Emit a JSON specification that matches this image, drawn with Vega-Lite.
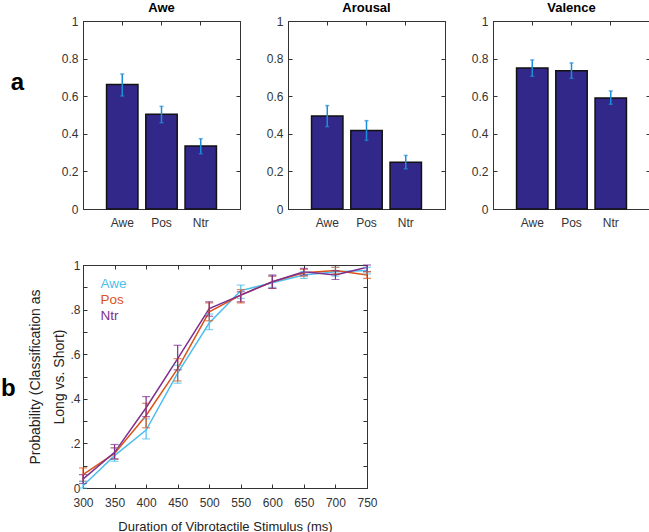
{
  "$schema": "https://vega.github.io/schema/vega-lite/v6.json",
  "padding": {"left": 0, "top": 1, "right": 1, "bottom": 0},
  "background": "white",
  "datasets": {
    "awe": [
      {"stim": "Awe", "mean": 0.662, "lo": 0.601, "hi": 0.718},
      {"stim": "Pos", "mean": 0.504, "lo": 0.459, "hi": 0.546},
      {"stim": "Ntr", "mean": 0.335, "lo": 0.294, "hi": 0.374}
    ],
    "arousal": [
      {"stim": "Awe", "mean": 0.495, "lo": 0.438, "hi": 0.55},
      {"stim": "Pos", "mean": 0.418, "lo": 0.365, "hi": 0.47},
      {"stim": "Ntr", "mean": 0.249, "lo": 0.214, "hi": 0.285}
    ],
    "valence": [
      {"stim": "Awe", "mean": 0.75, "lo": 0.706, "hi": 0.793},
      {"stim": "Pos", "mean": 0.736, "lo": 0.695, "hi": 0.777},
      {"stim": "Ntr", "mean": 0.59, "lo": 0.557, "hi": 0.628}
    ],
    "curve": [
      {"group": "Awe", "ms": 300, "p": 0.01, "lo": 0.0, "hi": 0.03},
      {"group": "Awe", "ms": 350, "p": 0.145, "lo": 0.12, "hi": 0.18},
      {"group": "Awe", "ms": 400, "p": 0.26, "lo": 0.22, "hi": 0.31},
      {"group": "Awe", "ms": 450, "p": 0.515, "lo": 0.47, "hi": 0.55},
      {"group": "Awe", "ms": 500, "p": 0.74, "lo": 0.71, "hi": 0.78},
      {"group": "Awe", "ms": 550, "p": 0.885, "lo": 0.85, "hi": 0.91},
      {"group": "Awe", "ms": 600, "p": 0.92, "lo": 0.9, "hi": 0.95},
      {"group": "Awe", "ms": 650, "p": 0.955, "lo": 0.94, "hi": 0.97},
      {"group": "Awe", "ms": 700, "p": 0.97, "lo": 0.95, "hi": 0.99},
      {"group": "Awe", "ms": 750, "p": 0.975, "lo": 0.96, "hi": 0.99},
      {"group": "Pos", "ms": 300, "p": 0.06, "lo": 0.03, "hi": 0.09},
      {"group": "Pos", "ms": 350, "p": 0.155, "lo": 0.13, "hi": 0.18},
      {"group": "Pos", "ms": 400, "p": 0.325, "lo": 0.27, "hi": 0.38},
      {"group": "Pos", "ms": 450, "p": 0.535, "lo": 0.48, "hi": 0.58},
      {"group": "Pos", "ms": 500, "p": 0.79, "lo": 0.75, "hi": 0.83},
      {"group": "Pos", "ms": 550, "p": 0.865, "lo": 0.83, "hi": 0.89},
      {"group": "Pos", "ms": 600, "p": 0.925, "lo": 0.895, "hi": 0.95},
      {"group": "Pos", "ms": 650, "p": 0.965, "lo": 0.95, "hi": 0.98},
      {"group": "Pos", "ms": 700, "p": 0.975, "lo": 0.96, "hi": 0.99},
      {"group": "Pos", "ms": 750, "p": 0.955, "lo": 0.94, "hi": 0.97},
      {"group": "Ntr", "ms": 300, "p": 0.04, "lo": 0.02, "hi": 0.06},
      {"group": "Ntr", "ms": 350, "p": 0.16, "lo": 0.13, "hi": 0.195},
      {"group": "Ntr", "ms": 400, "p": 0.36, "lo": 0.32, "hi": 0.41},
      {"group": "Ntr", "ms": 450, "p": 0.58, "lo": 0.53, "hi": 0.64},
      {"group": "Ntr", "ms": 500, "p": 0.805, "lo": 0.77, "hi": 0.835},
      {"group": "Ntr", "ms": 550, "p": 0.865, "lo": 0.835, "hi": 0.88},
      {"group": "Ntr", "ms": 600, "p": 0.925, "lo": 0.895, "hi": 0.955},
      {"group": "Ntr", "ms": 650, "p": 0.97, "lo": 0.955, "hi": 0.985},
      {"group": "Ntr", "ms": 700, "p": 0.955, "lo": 0.935, "hi": 0.975},
      {"group": "Ntr", "ms": 750, "p": 0.99, "lo": 0.97, "hi": 1.0}
    ]
  },
  "vconcat": [
    {
      "title": {"text": "a", "orient": "left", "angle": 0, "fontSize": 24, "fontWeight": "bold", "anchor": "middle", "offset": 30, "dy": -44, "color": "#000"},
      "spacing": 24,
      "hconcat": [
        {
          "width": 157, "height": 188,
          "data": {"name": "awe"},
          "title": {"text": "Awe", "fontSize": 13, "fontWeight": "bold", "offset": 0, "color": "#000"},
          "layer": [
            {
              "mark": {"type": "bar", "color": "#32288a", "stroke": "#111", "strokeWidth": 1.5},
              "encoding": {
                "x": {"field": "stim", "type": "nominal", "sort": ["Awe", "Pos", "Ntr"], "scale": {"paddingInner": 0.2, "paddingOuter": 0.6}, "axis": {"title": null, "labelAngle": 0, "tickSize": -4, "labelPadding": 12}},
                "y": {"field": "mean", "type": "quantitative", "scale": {"domain": [0, 1], "nice": false}, "axis": {"title": null, "values": [0, 0.2, 0.4, 0.6, 0.8, 1], "format": "~g", "tickSize": -4, "labelPadding": 9}}
              }
            },
            {
              "mark": {"type": "errorbar", "color": "#1c8dd8", "thickness": 1.5, "ticks": {"size": 4}},
              "encoding": {
                "x": {"field": "stim", "type": "nominal", "sort": ["Awe", "Pos", "Ntr"], "axis": {"orient": "top", "labels": false, "title": null, "tickSize": -4, "minExtent": 0, "maxExtent": 0}},
                "y": {"field": "lo", "type": "quantitative", "axis": {"orient": "right", "labels": false, "title": null, "tickSize": -4, "values": [0, 0.2, 0.4, 0.6, 0.8, 1], "minExtent": 0, "maxExtent": 0}},
                "y2": {"field": "hi"}
              }
            }
          ],
          "resolve": {"axis": {"x": "independent", "y": "independent"}}
        },
        {
          "width": 157, "height": 188,
          "data": {"name": "arousal"},
          "title": {"text": "Arousal", "fontSize": 13, "fontWeight": "bold", "offset": 0, "color": "#000"},
          "layer": [
            {
              "mark": {"type": "bar", "color": "#32288a", "stroke": "#111", "strokeWidth": 1.5},
              "encoding": {
                "x": {"field": "stim", "type": "nominal", "sort": ["Awe", "Pos", "Ntr"], "scale": {"paddingInner": 0.2, "paddingOuter": 0.6}, "axis": {"title": null, "labelAngle": 0, "tickSize": -4, "labelPadding": 12}},
                "y": {"field": "mean", "type": "quantitative", "scale": {"domain": [0, 1], "nice": false}, "axis": {"title": null, "values": [0, 0.2, 0.4, 0.6, 0.8, 1], "format": "~g", "tickSize": -4, "labelPadding": 9}}
              }
            },
            {
              "mark": {"type": "errorbar", "color": "#1c8dd8", "thickness": 1.5, "ticks": {"size": 4}},
              "encoding": {
                "x": {"field": "stim", "type": "nominal", "sort": ["Awe", "Pos", "Ntr"], "axis": {"orient": "top", "labels": false, "title": null, "tickSize": -4, "minExtent": 0, "maxExtent": 0}},
                "y": {"field": "lo", "type": "quantitative", "axis": {"orient": "right", "labels": false, "title": null, "tickSize": -4, "values": [0, 0.2, 0.4, 0.6, 0.8, 1], "minExtent": 0, "maxExtent": 0}},
                "y2": {"field": "hi"}
              }
            }
          ],
          "resolve": {"axis": {"x": "independent", "y": "independent"}}
        },
        {
          "width": 157, "height": 188,
          "data": {"name": "valence"},
          "title": {"text": "Valence", "fontSize": 13, "fontWeight": "bold", "offset": 0, "color": "#000"},
          "layer": [
            {
              "mark": {"type": "bar", "color": "#32288a", "stroke": "#111", "strokeWidth": 1.5},
              "encoding": {
                "x": {"field": "stim", "type": "nominal", "sort": ["Awe", "Pos", "Ntr"], "scale": {"paddingInner": 0.2, "paddingOuter": 0.6}, "axis": {"title": null, "labelAngle": 0, "tickSize": -4, "labelPadding": 12}},
                "y": {"field": "mean", "type": "quantitative", "scale": {"domain": [0, 1], "nice": false}, "axis": {"title": null, "values": [0, 0.2, 0.4, 0.6, 0.8, 1], "format": "~g", "tickSize": -4, "labelPadding": 9}}
              }
            },
            {
              "mark": {"type": "errorbar", "color": "#1c8dd8", "thickness": 1.5, "ticks": {"size": 4}},
              "encoding": {
                "x": {"field": "stim", "type": "nominal", "sort": ["Awe", "Pos", "Ntr"], "axis": {"orient": "top", "labels": false, "title": null, "tickSize": -4, "minExtent": 0, "maxExtent": 0}},
                "y": {"field": "lo", "type": "quantitative", "axis": {"orient": "right", "labels": false, "title": null, "tickSize": -4, "values": [0, 0.2, 0.4, 0.6, 0.8, 1], "minExtent": 0, "maxExtent": 0}},
                "y2": {"field": "hi"}
              }
            }
          ],
          "resolve": {"axis": {"x": "independent", "y": "independent"}}
        }
      ]
    },
    {
      "width": 284, "height": 223,
      "data": {"name": "curve"},
      "title": {"text": "b", "orient": "left", "angle": 0, "fontSize": 24, "fontWeight": "bold", "anchor": "middle", "offset": 6, "dy": 0, "color": "#000"},
      "layer": [
        {
          "mark": {"type": "line", "strokeWidth": 1.5},
          "encoding": {
            "x": {"field": "ms", "type": "quantitative", "scale": {"domain": [300, 750], "nice": false}, "axis": {"values": [300, 350, 400, 450, 500, 550, 600, 650, 700, 750], "labelFlush": false, "title": "Duration of Vibrotactile Stimulus (ms)", "tickSize": -4, "labelPadding": 13, "titlePadding": 12}},
            "y": {"field": "p", "type": "quantitative", "scale": {"domain": [0, 1], "nice": false}, "axis": {"values": [0, 0.1, 0.2, 0.3, 0.4, 0.5, 0.6, 0.7, 0.8, 0.9, 1], "labelFlush": false, "labelExpr": "round(datum.value*10) % 2 == 1 ? '' : datum.value == 0 ? '0' : datum.value == 1 ? '1' : '.' + round(datum.value*10)", "title": ["Probability  (Classification as", "Long vs. Short)"], "titleFontSize": 14, "titleLineHeight": 24, "tickSize": -4, "labelPadding": 7, "titlePadding": 3}},
            "color": {"field": "group", "type": "nominal", "scale": {"domain": ["Awe", "Pos", "Ntr"], "range": ["#4DBEEE", "#D95319", "#7E2F8E"]},
              "legend": {"orient": "top-left", "title": " ", "titleFontSize": 8, "titlePadding": 0, "symbolOpacity": 0, "symbolSize": 0, "symbolStrokeWidth": 0, "labelOffset": 0, "labelFontSize": 13.5, "rowPadding": 1, "offset": 4, "padding": 0,
                "encode": {"labels": {"update": {"fill": {"scale": "color", "field": "value"}}}}}}
          }
        },
        {
          "mark": {"type": "errorbar", "thickness": 1.2, "ticks": {"size": 8}},
          "encoding": {
            "x": {"field": "ms", "type": "quantitative", "axis": {"orient": "top", "labels": false, "title": null, "tickSize": -4, "values": [350, 400, 450, 500, 550, 600, 650, 700], "minExtent": 0, "maxExtent": 0}},
            "y": {"field": "lo", "type": "quantitative", "axis": {"orient": "right", "labels": false, "title": null, "tickSize": -4, "values": [0.1, 0.2, 0.3, 0.4, 0.5, 0.6, 0.7, 0.8, 0.9], "minExtent": 0, "maxExtent": 0}},
            "y2": {"field": "hi"},
            "color": {"field": "group", "type": "nominal", "legend": null}
          }
        }
      ],
      "resolve": {"axis": {"x": "independent", "y": "independent"}}
    }
  ],
  "spacing": 29,
  "resolve": {"legend": {"color": "independent"}},
  "config": {
    "font": "Liberation Sans",
    "view": {"stroke": "#333", "strokeWidth": 1},
    "axis": {"labelFont": "Liberation Sans", "labelFontSize": 12, "labelColor": "#333", "domainColor": "#333", "tickColor": "#333", "grid": false, "titleFont": "Liberation Sans", "titleFontWeight": "normal", "titleFontSize": 13, "titleColor": "#222"},
    "legend": {"labelFont": "Liberation Sans"}
  }
}
